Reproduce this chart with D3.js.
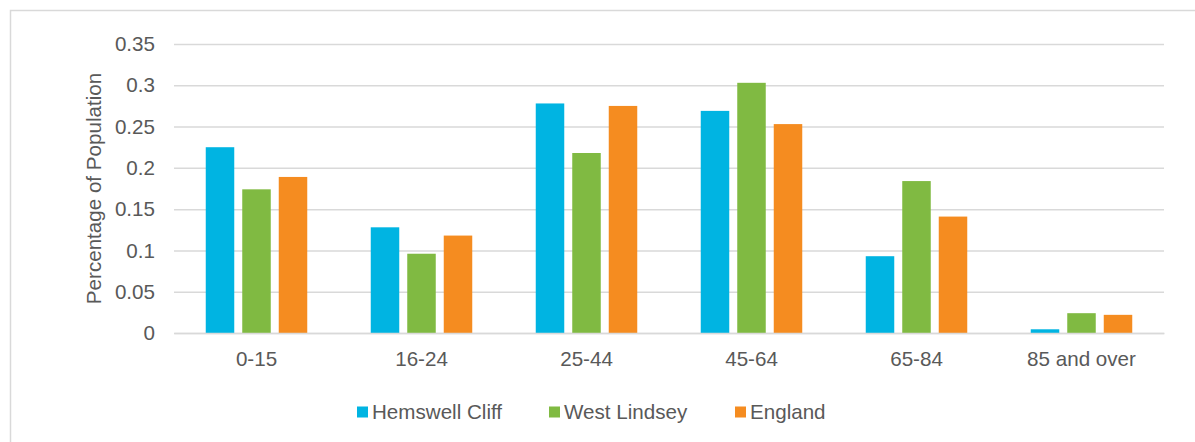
<!DOCTYPE html>
<html>
<head>
<meta charset="utf-8">
<script src="https://cdn.jsdelivr.net/npm/d3@7"></script>
<style>
  html, body { margin: 0; padding: 0; background: #fff; }
  svg { display: block; }
  text { font-family: "Liberation Sans", Arial, sans-serif; fill: #595959; }
</style>
</head>
<body>
<svg id="chart" width="1195" height="442"></svg>
<script>
const categories = ["0-15", "16-24", "25-44", "45-64", "65-84", "85 and over"];
const seriesNames = ["Hemswell Cliff", "West Lindsey", "England"];
const hemswellCliff = [0.225, 0.128, 0.278, 0.269, 0.093, 0.0045];
const westLindsey   = [0.174, 0.096, 0.218, 0.303, 0.184, 0.024];
const england       = [0.189, 0.118, 0.275, 0.253, 0.141, 0.022];
const yTicks = [0, 0.05, 0.1, 0.15, 0.2, 0.25, 0.3, 0.35];
const yTickLabels = ["0", "0.05", "0.1", "0.15", "0.2", "0.25", "0.3", "0.35"];
const colors = ["#00B4E2", "#80BA42", "#F58C20"];

(function () {
const seriesValues = [hemswellCliff, westLindsey, england];
const svg = d3.select("#chart");
const fs = "20.6px";

// outer chart border (top & left visible)
svg.append("rect")
  .attr("x", 10.5).attr("y", 10.5)
  .attr("width", 1300).attr("height", 600)
  .attr("fill", "none").attr("stroke", "#D9D9D9").attr("stroke-width", 1.5);

const pLeft = 174, pRight = 1164, pTop = 44, pBottom = 333;

const y = d3.scaleLinear().domain([0, 0.35]).range([pBottom, pTop]);
const x0 = d3.scaleBand().domain(categories).range([pLeft, pRight]).padding(0);
const x1 = d3.scaleBand().domain(seriesNames).range([0, x0.bandwidth()])
  .paddingInner(0.219).paddingOuter(0.87);

// gridlines
const yAxis = d3.axisLeft(y).tickValues(yTicks)
  .tickFormat((d, i) => yTickLabels[i])
  .tickSize(-(pRight - pLeft)).tickPadding(19);
const gy = svg.append("g").attr("transform", `translate(${pLeft},0)`).call(yAxis);
gy.select(".domain").remove();
gy.selectAll(".tick line").attr("stroke", "#D9D9D9").attr("stroke-width", 1.5);
gy.selectAll(".tick text").attr("font-size", fs).attr("fill", "#595959")
  .style("font-family", "'Liberation Sans', Arial, sans-serif");

// bars
const groups = svg.append("g").selectAll("g")
  .data(categories).join("g")
  .attr("transform", d => `translate(${x0(d)},0)`);

groups.selectAll("rect")
  .data((c, ci) => seriesNames.map((s, si) => ({ s, si, v: seriesValues[si][ci] })))
  .join("rect")
  .attr("x", d => x1(d.s))
  .attr("width", x1.bandwidth())
  .attr("y", d => y(d.v))
  .attr("height", d => y(0) - y(d.v))
  .attr("fill", d => colors[d.si]);

// x axis baseline
const xAxis = d3.axisBottom(x0).tickSize(0).tickPadding(18);
const gx = svg.append("g").attr("transform", `translate(0,${pBottom})`).call(xAxis);
gx.select(".domain").attr("stroke", "#D9D9D9").attr("stroke-width", 1.5);
gx.selectAll(".tick text").attr("font-size", fs).attr("fill", "#595959")
  .style("font-family", "'Liberation Sans', Arial, sans-serif");

// y axis title
svg.append("text")
  .attr("transform", `translate(101,${(pTop + pBottom) / 2}) rotate(-90)`)
  .attr("text-anchor", "middle")
  .attr("font-size", fs)
  .text("Percentage of Population");

// legend
const legendX = [357, 549, 735];
const legend = svg.append("g").selectAll("g")
  .data(seriesNames).join("g")
  .attr("transform", (d, i) => `translate(${legendX[i]},412)`);
legend.append("rect")
  .attr("x", 0).attr("y", -5.5).attr("width", 11).attr("height", 11)
  .attr("fill", (d, i) => colors[i]);
legend.append("text")
  .attr("x", 15).attr("y", 0).attr("dy", "0.35em")
  .attr("font-size", fs)
  .text(d => d);
})();
</script>
</body>
</html>
